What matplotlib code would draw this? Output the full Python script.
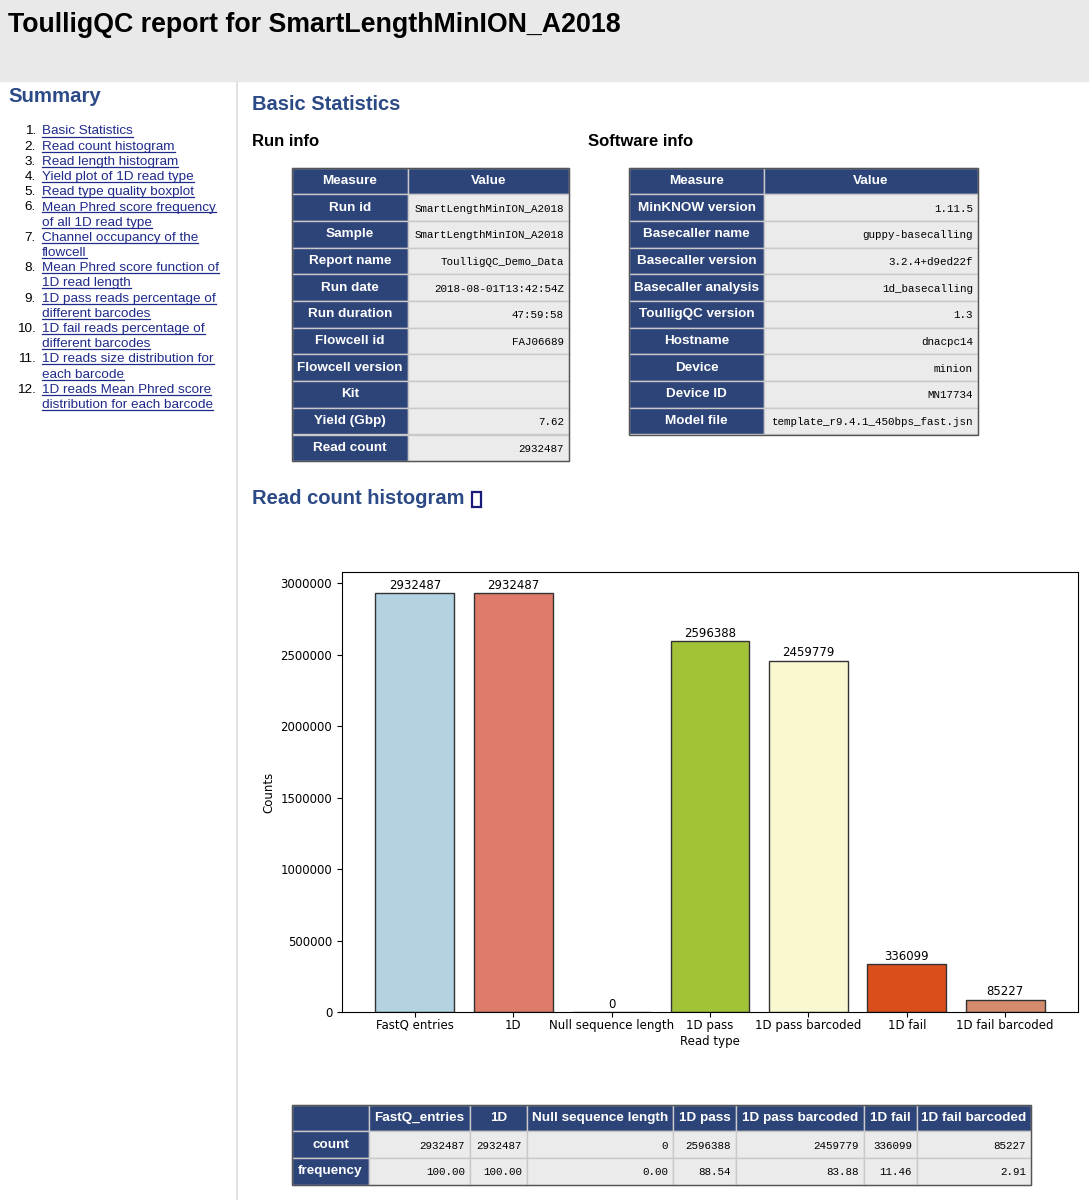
import numpy as np
import matplotlib
matplotlib.use("Agg")
import matplotlib.pyplot as plt
from matplotlib.patches import Rectangle

# ---- data ----
report_title = "ToulligQC report for SmartLengthMinION_A2018"
summary_links = [
    ["Basic Statistics"],
    ["Read count histogram"],
    ["Read length histogram"],
    ["Yield plot of 1D read type"],
    ["Read type quality boxplot"],
    ["Mean Phred score frequency", "of all 1D read type"],
    ["Channel occupancy of the", "flowcell"],
    ["Mean Phred score function of", "1D read length"],
    ["1D pass reads percentage of", "different barcodes"],
    ["1D fail reads percentage of", "different barcodes"],
    ["1D reads size distribution for", "each barcode"],
    ["1D reads Mean Phred score", "distribution for each barcode"],
]

run_measures = ["Run id", "Sample", "Report name", "Run date", "Run duration",
                "Flowcell id", "Flowcell version", "Kit", "Yield (Gbp)", "Read count"]
run_values = ["SmartLengthMinION_A2018", "SmartLengthMinION_A2018", "ToulligQC_Demo_Data",
              "2018-08-01T13:42:54Z", "47:59:58", "FAJ06689", "", "", "7.62", "2932487"]

soft_measures = ["MinKNOW version", "Basecaller name", "Basecaller version",
                 "Basecaller analysis", "ToulligQC version", "Hostname", "Device",
                 "Device ID", "Model file"]
soft_values = ["1.11.5", "guppy-basecalling", "3.2.4+d9ed22f", "1d_basecalling", "1.3",
               "dnacpc14", "minion", "MN17734", "template_r9.4.1_450bps_fast.jsn"]

read_types = ["FastQ entries", "1D", "Null sequence length", "1D pass",
              "1D pass barcoded", "1D fail", "1D fail barcoded"]
counts = [2932487, 2932487, 0, 2596388, 2459779, 336099, 85227]
frequencies = ["100.00", "100.00", "0.00", "88.54", "83.88", "11.46", "2.91"]
table_columns = ["FastQ_entries", "1D", "Null sequence length", "1D pass",
                 "1D pass barcoded", "1D fail", "1D fail barcoded"]
bar_colors = ["#b3d3e3", "#de7b6a", "#e8e8e8", "#a2c237", "#f9f8d0", "#d94e1b", "#d48b6d"]

# ---- style ----
W, H = 1089, 1200
NAVY = "#2d4479"
LINK = "#1f2a8a"
HEAD_BLUE = "#2c4a86"
CELL_GRAY = "#ebebeb"
SANS = "Liberation Sans"
MONO = "Liberation Mono"

fig = plt.figure(figsize=(W / 100, H / 100), dpi=100)
page = fig.add_axes([0, 0, 1, 1])
page.set_xlim(0, W)
page.set_ylim(H, 0)
page.axis("off")

# header band + sidebar separator
page.add_patch(Rectangle((0, 0), W, 81, color="#e9e9e9", zorder=0))
page.plot([237, 237], [82, H], color="#dddddd", lw=1.2)
page.text(8, 25, report_title, fontsize=19.3, fontweight="bold", family=SANS,
          va="center", ha="left")

# sidebar
page.text(8, 97, "Summary", fontsize=14.7, fontweight="bold", color=HEAD_BLUE,
          family=SANS, va="center")
link_texts = []
y = 134.5
line_h = 15.2
for i, lines in enumerate(summary_links):
    page.text(36, y, f"{i + 1}.", fontsize=9.7, family=SANS, ha="right", va="baseline")
    for ln in lines:
        t = page.text(42, y, ln, fontsize=9.7, family=SANS, color=LINK, va="baseline")
        link_texts.append((t, y))
        y += line_h

# section headings
page.text(252, 104, "Basic Statistics", fontsize=14.5, fontweight="bold", color=HEAD_BLUE,
          family=SANS, va="center")
page.text(252, 142, "Run info", fontsize=12, fontweight="bold", family=SANS, va="center")
page.text(588, 142, "Software info", fontsize=12, fontweight="bold", family=SANS, va="center")
hist_title = page.text(252, 499, "Read count histogram", fontsize=14.5, fontweight="bold",
                       color=HEAD_BLUE, family=SANS, va="center")


def cell(x0, x1, y0, y1, fc):
    page.add_patch(Rectangle((x0, y0), x1 - x0, y1 - y0, facecolor=fc,
                             edgecolor="#c9c9c9", lw=1.0, zorder=1))


def kv_table(x0, xm, x1, y0, row_h, measures, values):
    n = len(measures) + 1
    cell(x0, xm, y0, y0 + row_h, NAVY)
    cell(xm, x1, y0, y0 + row_h, NAVY)
    page.text((x0 + xm) / 2, y0 + row_h / 2, "Measure", color="white", fontsize=9.7,
              fontweight="bold", family=SANS, ha="center", va="center", zorder=3)
    page.text((xm + x1) / 2, y0 + row_h / 2, "Value", color="white", fontsize=9.7,
              fontweight="bold", family=SANS, ha="center", va="center", zorder=3)
    for i, (m, v) in enumerate(zip(measures, values)):
        ya = y0 + (i + 1) * row_h
        cell(x0, xm, ya, ya + row_h, NAVY)
        cell(xm, x1, ya, ya + row_h, CELL_GRAY)
        page.text((x0 + xm) / 2, ya + row_h / 2, m, color="white", fontsize=9.7,
                  fontweight="bold", family=SANS, ha="center", va="center", zorder=3)
        page.text(x1 - 5, ya + row_h / 2 + 1, v, fontsize=7.85, family=MONO,
                  ha="right", va="center", zorder=3)
    page.add_patch(Rectangle((x0, y0), x1 - x0, n * row_h, fill=False,
                             edgecolor="#555555", lw=1.0, zorder=4))


kv_table(292, 408, 569, 167.5, 26.7, run_measures, run_values)
kv_table(629, 764, 978, 167.5, 26.7, soft_measures, soft_values)

# bottom count table
col_edges = [292, 369, 470, 527, 673, 736, 864, 917, 1031]
ty0, trh = 1104.5, 26.7
for j in range(len(col_edges) - 1):
    xa, xb = col_edges[j], col_edges[j + 1]
    cell(xa, xb, ty0, ty0 + trh, NAVY)
    if j > 0:
        page.text((xa + xb) / 2, ty0 + trh / 2, table_columns[j - 1], color="white",
                  fontsize=9.7, fontweight="bold", family=SANS, ha="center",
                  va="center", zorder=3)
row_names = ["count", "frequency"]
row_vals = [[str(c) for c in counts], frequencies]
for r, (name, vals) in enumerate(zip(row_names, row_vals)):
    ya = ty0 + (r + 1) * trh
    cell(col_edges[0], col_edges[1], ya, ya + trh, NAVY)
    page.text((col_edges[0] + col_edges[1]) / 2, ya + trh / 2, name, color="white",
              fontsize=9.7, fontweight="bold", family=SANS, ha="center", va="center",
              zorder=3)
    for j, v in enumerate(vals):
        xa, xb = col_edges[j + 1], col_edges[j + 2]
        cell(xa, xb, ya, ya + trh, CELL_GRAY)
        page.text(xb - 5, ya + trh / 2 + 1, v, fontsize=7.8, family=MONO,
                  ha="right", va="center", zorder=3)
page.add_patch(Rectangle((col_edges[0], ty0), col_edges[-1] - col_edges[0], 3 * trh,
                         fill=False, edgecolor="#555555", lw=1.0, zorder=4))

# ---- bar chart ----
left, right, top, bottom = 342, 1078, 572, 1012
ax = fig.add_axes([left / W, (H - bottom) / H, (right - left) / W, (bottom - top) / H])
x = np.arange(len(read_types))
bars = ax.bar(x, counts, color=bar_colors, edgecolor="#333333", linewidth=1.0, width=0.8)
ax.bar_label(bars, labels=[str(c) for c in counts], fontsize=8.5, padding=1)
ax.set_xticks(x)
ax.set_xticklabels(read_types, fontsize=8.5)
ax.set_yticks(np.arange(0, 3000001, 500000))
ax.ticklabel_format(style="plain", axis="y")
ax.tick_params(axis="y", labelsize=8.5)
ax.tick_params(axis="x", pad=1.5)
ax.set_xlabel("Read type", fontsize=8.5, labelpad=2)
ax.set_ylabel("Counts", fontsize=8.5)

# underline links and draw anchor box after layout is known
fig.canvas.draw()
renderer = fig.canvas.get_renderer()
inv = page.transData.inverted()
for t, yb in link_texts:
    bb = t.get_window_extent(renderer)
    xa = inv.transform((bb.x0, 0))[0]
    xb = inv.transform((bb.x1, 0))[0]
    page.plot([xa, xb], [yb + 2, yb + 2], color=LINK, lw=0.9)
bb = hist_title.get_window_extent(renderer)
hx = inv.transform((bb.x1, 0))[0]
page.add_patch(Rectangle((hx + 7, 492), 9, 14.5, fill=False, edgecolor="#1a1a7a", lw=1.6))

fig.savefig("out.png", dpi=100)
